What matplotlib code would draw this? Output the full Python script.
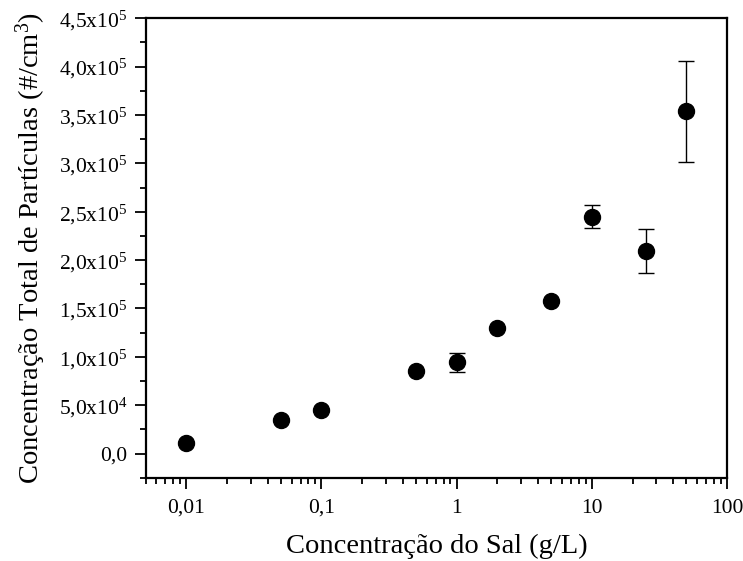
import matplotlib.pyplot as plt
import matplotlib.ticker as mticker
import numpy as np

# Data
salt = [0.01, 0.05, 0.1, 0.5, 1, 2, 5, 10, 25, 50]
particles = [1.1e4, 3.5e4, 4.45e4, 8.5e4, 9.42e4, 1.294e5, 1.573e5, 2.45e5, 2.097e5, 3.536e5]
err = [0, 0, 0, 0, 9.7e3, 0, 0, 1.2e4, 2.26e4, 5.18e4]

y_ticks = [0, 5e4, 1e5, 1.5e5, 2e5, 2.5e5, 3e5, 3.5e5, 4e5, 4.5e5]
x_ticks = [0.01, 0.1, 1, 10, 100]
x_ticklabels = ['0,01', '0,1', '1', '10', '100']

plt.rcParams['font.family'] = 'Liberation Serif'
plt.rcParams['mathtext.fontset'] = 'custom'
plt.rcParams['mathtext.rm'] = 'Liberation Serif'
plt.rcParams['mathtext.it'] = 'Liberation Serif'


def sci_fmt(v, pos):
    if v == 0:
        return '0,0'
    exp = int(np.floor(np.log10(v) + 1e-9))
    mant = v / 10**exp
    return ('%.1f' % mant).replace('.', ',') + r'x10$^{%d}$' % exp


# Layout
fig = plt.figure(figsize=(7.43, 5.61), dpi=100)
ax = fig.add_axes([0.196, 0.1485, 0.7825, 0.819])

# Plot
ax.errorbar(salt, particles, yerr=err, fmt='o', color='black', markersize=11.5,
            ecolor='black', elinewidth=1, capsize=6, capthick=1)

# Details
ax.set_xscale('log')
ax.set_xlim(0.005, 100)
ax.set_ylim(-2.5e4, 4.5e5)
ax.set_xticks(x_ticks)
ax.set_xticklabels(x_ticklabels)
ax.set_yticks(y_ticks)
ax.yaxis.set_major_formatter(mticker.FuncFormatter(sci_fmt))
ax.yaxis.set_minor_locator(mticker.MultipleLocator(2.5e4))
ax.xaxis.set_minor_locator(mticker.LogLocator(base=10, subs=np.arange(2, 10)))
ax.xaxis.set_minor_formatter(mticker.NullFormatter())

ax.tick_params(which='major', direction='out', length=8, width=1.3, labelsize=15.5, pad=5)
ax.tick_params(which='minor', direction='out', length=4.5, width=1.3)
ax.tick_params(axis='x', which='major', pad=7)
for s in ax.spines.values():
    s.set_linewidth(1.6)

ax.set_xlabel('Concentração do Sal (g/L)', fontsize=20.5, labelpad=12)
ax.set_ylabel(r'Concentração Total de Partículas (#/cm$^{3}$)', fontsize=20.5)
ax.yaxis.set_label_coords(-0.168, 0.5)

# Output
fig.savefig('out.png', dpi=100)
